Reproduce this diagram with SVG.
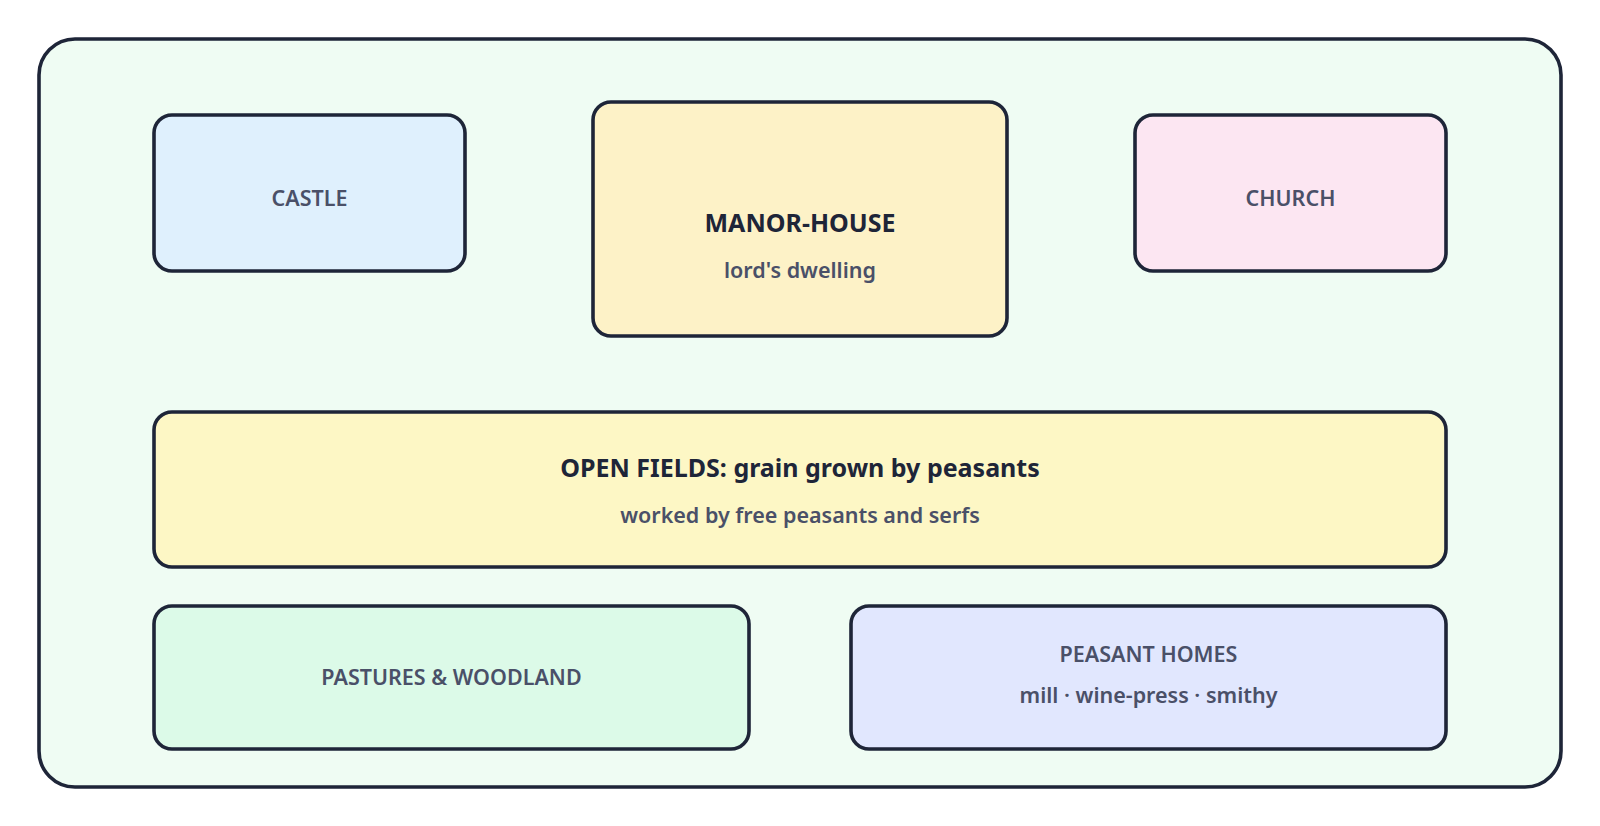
<svg xmlns="http://www.w3.org/2000/svg" width="1600" height="826" viewBox="0 0 1600 826">
<style>
.b{stroke:#1e2538;stroke-width:3.6}
.t{font-family:"Noto Sans",sans-serif;font-weight:600;text-anchor:middle;fill:#4a5068;font-size:21.5px}
.h{font-family:"Noto Sans",sans-serif;font-weight:700;text-anchor:middle;fill:#1e2538;font-size:25px}
</style>
<rect width="1600" height="826" fill="#ffffff"/>
<g id="manor"><rect class="b" x="39" y="39" width="1522" height="748" rx="36" fill="#effcf3"/></g>
<g id="castle"><rect class="b" x="154" y="115" width="311" height="156" rx="18" fill="#dff0fd"/><text class="t" x="309.5" y="206">CASTLE</text></g>
<g id="manor-house"><rect class="b" x="593" y="102" width="414" height="234" rx="18" fill="#fdf2c7"/><text class="h" x="800" y="232">MANOR-HOUSE</text><text class="t" x="800" y="278">lord's dwelling</text></g>
<g id="church"><rect class="b" x="1135" y="115" width="311" height="156" rx="18" fill="#fce6f2"/><text class="t" x="1290.5" y="206">CHURCH</text></g>
<g id="fields"><rect class="b" x="154" y="412" width="1292" height="155" rx="18" fill="#fdf7c5"/><text class="h" x="800" y="477">OPEN FIELDS: grain grown by peasants</text><text class="t" x="800" y="523">worked by free peasants and serfs</text></g>
<g id="pastures"><rect class="b" x="154" y="606" width="595" height="143" rx="18" fill="#dcfae8"/><text class="t" x="451.5" y="685">PASTURES &amp; WOODLAND</text></g>
<g id="homes"><rect class="b" x="851" y="606" width="595" height="143" rx="18" fill="#e1e7fe"/><text class="t" x="1148.5" y="662">PEASANT HOMES</text><text class="t" x="1148.5" y="703">mill · wine-press · smithy</text></g>
<g id="connectors"></g>
</svg>
